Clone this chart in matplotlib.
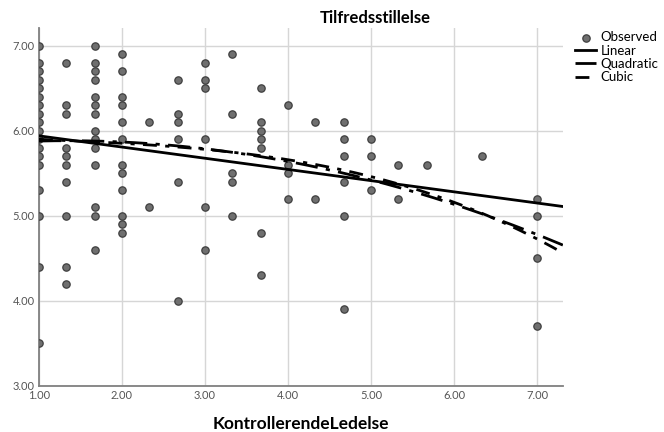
import numpy as np
import matplotlib
matplotlib.use("Agg")
from matplotlib import pyplot as plt

plt.rcParams["font.family"] = ["Lato", "DejaVu Sans"]

# Observed scores, grouped by KontrollerendeLedelse level
x_levels = [1.00, 1.33, 1.67, 2.00, 2.33, 2.67, 3.00, 3.33, 3.67,
            4.00, 4.33, 4.67, 5.00, 5.33, 5.67, 6.33, 7.00]
y_groups = [
    [7.0, 6.8, 6.7, 6.6, 6.5, 6.4, 6.3, 6.2, 6.1, 6.0, 5.9, 5.8, 5.7, 5.6, 5.3, 5.0, 4.4, 3.5],
    [6.8, 6.3, 6.2, 5.8, 5.7, 5.6, 5.4, 5.0, 4.4, 4.2],
    [7.0, 6.8, 6.7, 6.6, 6.4, 6.3, 6.2, 6.0, 5.9, 5.8, 5.6, 5.1, 5.0, 4.6],
    [6.9, 6.7, 6.4, 6.3, 6.1, 5.9, 5.6, 5.5, 5.3, 5.0, 4.9, 4.8],
    [6.1, 5.1],
    [6.6, 6.2, 6.1, 5.9, 5.4, 4.0],
    [6.8, 6.6, 6.5, 5.9, 5.1, 4.6],
    [6.9, 6.2, 5.5, 5.4, 5.0],
    [6.5, 6.1, 6.0, 5.9, 5.8, 4.8, 4.3],
    [6.3, 5.6, 5.5, 5.2],
    [6.1, 5.2],
    [6.1, 5.9, 5.7, 5.4, 5.0, 3.9],
    [5.9, 5.7, 5.3],
    [5.6, 5.2],
    [5.6],
    [5.7],
    [5.2, 5.0, 4.5, 3.7],
]

# curve estimation coefficients (lowest order first)
linear_coef = [6.072, -0.1316]
quadratic_coef = [5.822, 0.092, -0.0344]
cubic_coef = [5.9488, -0.05843, 0.01405, -0.004373]

x_ticks = [1, 2, 3, 4, 5, 6, 7]
y_ticks = [3, 4, 5, 6, 7]

obs_x = np.concatenate([[x] * len(ys) for x, ys in zip(x_levels, y_groups)])
obs_y = np.concatenate(y_groups)

fig = plt.figure(figsize=(6.64, 4.32), dpi=100)
ax = fig.add_axes([0.0587, 0.1065, 0.789, 0.829])

grid_col = "#d6d6d6"
for t in x_ticks:
    ax.axvline(t, color=grid_col, lw=1.0, zorder=0)
for t in y_ticks:
    ax.axhline(t, color=grid_col, lw=1.0, zorder=0)

ax.scatter(obs_x, obs_y, s=28, facecolor="#6f6f6f", edgecolor="#3f3f3f",
           linewidths=0.9, zorder=3, label="Observed")

xs = np.linspace(1.0, 7.31, 200)
ax.plot(xs, np.polynomial.polynomial.polyval(xs, linear_coef),
        color="black", lw=2.0, zorder=4, label="Linear")
ax.plot(xs, np.polynomial.polynomial.polyval(xs, quadratic_coef),
        color="black", lw=2.0, ls=(0, (8, 3, 1.5, 3)), zorder=4, label="Quadratic")
ax.plot(xs, np.polynomial.polynomial.polyval(xs, cubic_coef),
        color="black", lw=2.0, ls=(0, (5, 3, 1.5, 3)), zorder=4, label="Cubic")

ax.set_xlim(1.0, 7.31)
ax.set_ylim(3.0, 7.21)
ax.set_xticks(x_ticks)
ax.set_yticks(y_ticks)
ax.set_xticklabels([f"{t:.2f}" for t in x_ticks])
ax.set_yticklabels([f"{t:.2f}" for t in y_ticks])
ax.tick_params(length=0, labelsize=8, labelcolor="#555555", pad=3)

for side in ("top", "right"):
    ax.spines[side].set_visible(False)
for side in ("left", "bottom"):
    ax.spines[side].set_color("#808080")
    ax.spines[side].set_linewidth(1.3)

ax.set_xlabel("KontrollerendeLedelse", fontsize=12.5, fontweight="bold", labelpad=11)
fig.text(375 / 664, 1 - 18 / 432, "Tilfredsstillelse", fontsize=12,
         fontweight="bold", ha="center", va="center")

fig.legend(loc="upper left", bbox_to_anchor=(570 / 664, 1 - 26 / 432),
           frameon=False, fontsize=9.5, handlelength=1.6, handletextpad=0.3,
           labelspacing=0.1, borderaxespad=0)

fig.savefig("out.png", dpi=100)
